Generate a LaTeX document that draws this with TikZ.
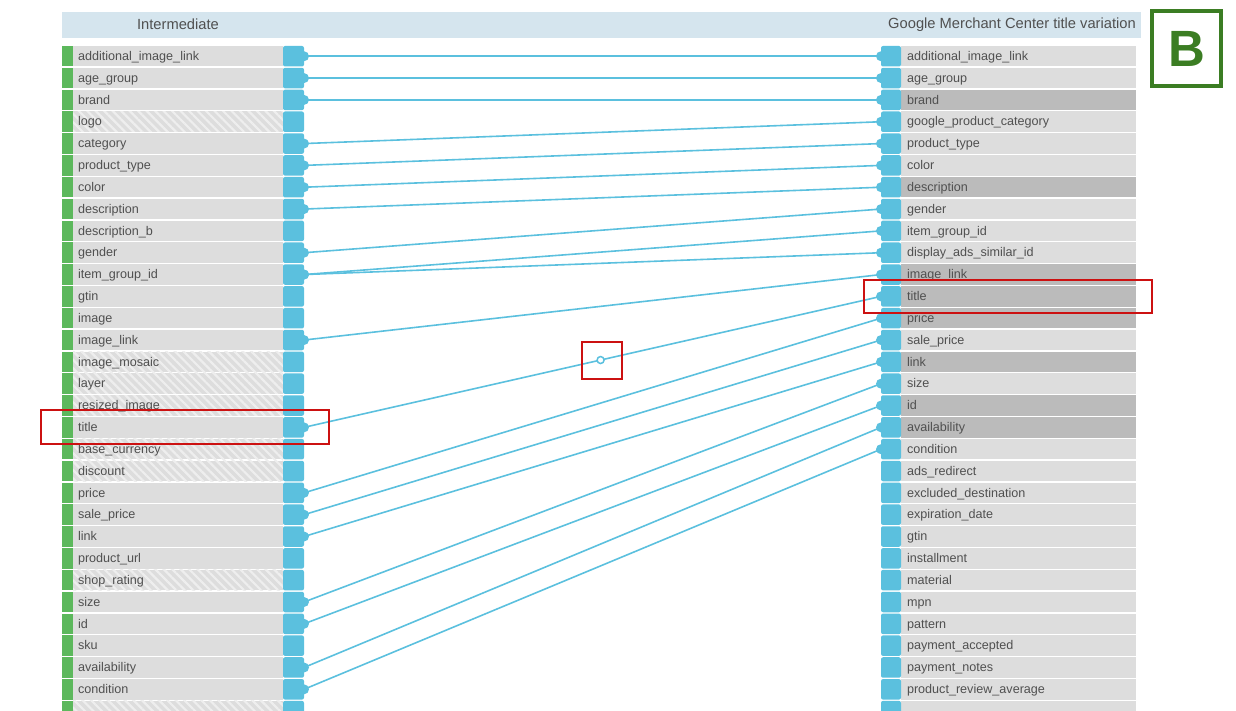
\documentclass[tikz,border=0pt]{standalone}
\usepackage{fontspec}
\setmainfont{Liberation Sans}
\usepackage{tikz}
\usetikzlibrary{patterns.meta}
\definecolor{rowgray}{HTML}{DDDDDD}
\definecolor{rowdark}{HTML}{BBBBBB}
\definecolor{hatchgray}{HTML}{EEEEEE}
\definecolor{portblue}{HTML}{5BC0DE}
\definecolor{stripgreen}{HTML}{5CB85C}
\definecolor{headblue}{HTML}{D5E5EE}
\definecolor{labeltext}{HTML}{505050}
\definecolor{hlred}{HTML}{CC1111}
\definecolor{bgreen}{HTML}{3B7D23}
\tikzset{
    lrow/.style={
           rectangle,
           fill=rowgray,
           minimum width=210pt, text width=200pt,
           minimum height=20.5pt,
           text height=11.4pt, text depth=3pt,
           inner xsep=5pt, inner ysep=0pt, outer sep=0pt,
           align=left,
           text=labeltext,
           font=\fontsize{12.6}{15}\selectfont,
           label={[lstrip]left:},
           label={[lport]right:},
           },
    lrowh/.style={
           lrow,
           preaction={fill=rowgray},
           pattern={Lines[angle=-45,distance=6pt,line width=2.2pt]},
           pattern color=hatchgray,
           },
    rrow/.style={
           rectangle,
           fill=rowgray,
           minimum width=235pt, text width=223pt,
           minimum height=20.5pt,
           text height=11.4pt, text depth=3pt,
           inner xsep=6pt, inner ysep=0pt, outer sep=0pt,
           align=left,
           text=labeltext,
           font=\fontsize{12.6}{15}\selectfont,
           label={[rport]left:},
           },
    rrowd/.style={rrow, fill=rowdark},
    lstrip/.style={fill=stripgreen, minimum width=11pt, minimum height=20.5pt, inner sep=0pt, outer sep=0pt},
    lport/.style={fill=portblue, minimum width=21pt, minimum height=20.5pt, inner sep=0pt, outer sep=0pt, rounded corners=2pt},
    rport/.style={fill=portblue, minimum width=20pt, minimum height=20.5pt, inner sep=0pt, outer sep=0pt, rounded corners=2pt},
    bump/.style={circle, fill=portblue, minimum size=10pt, inner sep=0pt},
    link/.style={draw=portblue, line width=1.6pt,
           edge node={node[bump, at start]{} node[bump, at end]{}}},
    dot/.style={circle, draw=portblue, fill=white, line width=1.5pt, minimum size=7pt, inner sep=0pt},
    hl/.style={rectangle, draw=hlred, line width=2pt, inner sep=0pt},
    headtext/.style={text=labeltext, font=\fontsize{14.7}{17}\selectfont, inner sep=0pt},
}

\begin{document}
\begin{tikzpicture}[x=1pt, y=-1pt, node distance=21.83pt]
 \useasboundingbox (0,0) rectangle (1236,711);
 \clip (0,0) rectangle (1236,711);

 % header bar
 \node[fill=headblue, minimum width=1079pt, minimum height=25.5pt,
  inner sep=0pt, anchor=north west] (HEAD) at (62,12) {};
 \node[headtext] (HLEFT) at (178,24.5) {Intermediate};
 \node[headtext, anchor=east] (HRIGHT) at (1136,24.5) {Google Merchant Center title variation};

 % variant badge
 \node[draw=bgreen, line width=4pt, minimum width=69pt, minimum height=75pt,
  text=bgreen, font=\fontsize{51}{55}\selectfont\bfseries] (BADGE) at (1186.5,48.5) {B};

 % left column: Intermediate
 \node[lrow, anchor=north west] (L1) at (73,46) {additional\_image\_link};
 \node[lrow, below of=L1] (L2) {age\_group};
 \node[lrow, below of=L2] (L3) {brand};
 \node[lrowh, below of=L3] (L4) {logo};
 \node[lrow, below of=L4] (L5) {category};
 \node[lrow, below of=L5] (L6) {product\_type};
 \node[lrow, below of=L6] (L7) {color};
 \node[lrow, below of=L7] (L8) {description};
 \node[lrow, below of=L8] (L9) {description\_b};
 \node[lrow, below of=L9] (L10) {gender};
 \node[lrow, below of=L10] (L11) {item\_group\_id};
 \node[lrow, below of=L11] (L12) {gtin};
 \node[lrow, below of=L12] (L13) {image};
 \node[lrow, below of=L13] (L14) {image\_link};
 \node[lrowh, below of=L14] (L15) {image\_mosaic};
 \node[lrowh, below of=L15] (L16) {layer};
 \node[lrowh, below of=L16] (L17) {resized\_image};
 \node[lrow, below of=L17] (L18) {title};
 \node[lrowh, below of=L18] (L19) {base\_currency};
 \node[lrowh, below of=L19] (L20) {discount};
 \node[lrow, below of=L20] (L21) {price};
 \node[lrow, below of=L21] (L22) {sale\_price};
 \node[lrow, below of=L22] (L23) {link};
 \node[lrow, below of=L23] (L24) {product\_url};
 \node[lrowh, below of=L24] (L25) {shop\_rating};
 \node[lrow, below of=L25] (L26) {size};
 \node[lrow, below of=L26] (L27) {id};
 \node[lrow, below of=L27] (L28) {sku};
 \node[lrow, below of=L28] (L29) {availability};
 \node[lrow, below of=L29] (L30) {condition};
 \node[lrowh, below of=L30] (L31) {};

 % right column: Google Merchant Center
 \node[rrow, anchor=north west] (R1) at (901,46) {additional\_image\_link};
 \node[rrow, below of=R1] (R2) {age\_group};
 \node[rrowd, below of=R2] (R3) {brand};
 \node[rrow, below of=R3] (R4) {google\_product\_category};
 \node[rrow, below of=R4] (R5) {product\_type};
 \node[rrow, below of=R5] (R6) {color};
 \node[rrowd, below of=R6] (R7) {description};
 \node[rrow, below of=R7] (R8) {gender};
 \node[rrow, below of=R8] (R9) {item\_group\_id};
 \node[rrow, below of=R9] (R10) {display\_ads\_similar\_id};
 \node[rrowd, below of=R10] (R11) {image\_link};
 \node[rrowd, below of=R11] (R12) {title};
 \node[rrowd, below of=R12] (R13) {price};
 \node[rrow, below of=R13] (R14) {sale\_price};
 \node[rrowd, below of=R14] (R15) {link};
 \node[rrow, below of=R15] (R16) {size};
 \node[rrowd, below of=R16] (R17) {id};
 \node[rrowd, below of=R17] (R18) {availability};
 \node[rrow, below of=R18] (R19) {condition};
 \node[rrow, below of=R19] (R20) {ads\_redirect};
 \node[rrow, below of=R20] (R21) {excluded\_destination};
 \node[rrow, below of=R21] (R22) {expiration\_date};
 \node[rrow, below of=R22] (R23) {gtin};
 \node[rrow, below of=R23] (R24) {installment};
 \node[rrow, below of=R24] (R25) {material};
 \node[rrow, below of=R25] (R26) {mpn};
 \node[rrow, below of=R26] (R27) {pattern};
 \node[rrow, below of=R27] (R28) {payment\_accepted};
 \node[rrow, below of=R28] (R29) {payment\_notes};
 \node[rrow, below of=R29] (R30) {product\_review\_average};
 \node[rrow, below of=R30] (R31) {};

 % mappings, port to port
 \path
 ([xshift=21pt]L1.east)	edge[link]	([xshift=-20pt]R1.west)
 ([xshift=21pt]L2.east)	edge[link]	([xshift=-20pt]R2.west)
 ([xshift=21pt]L3.east)	edge[link]	([xshift=-20pt]R3.west)
 ([xshift=21pt]L5.east)	edge[link]	([xshift=-20pt]R4.west)
 ([xshift=21pt]L6.east)	edge[link]	([xshift=-20pt]R5.west)
 ([xshift=21pt]L7.east)	edge[link]	([xshift=-20pt]R6.west)
 ([xshift=21pt]L8.east)	edge[link]	([xshift=-20pt]R7.west)
 ([xshift=21pt]L10.east)	edge[link]	([xshift=-20pt]R8.west)
 ([xshift=21pt]L11.east)	edge[link]	([xshift=-20pt]R9.west)
 ([xshift=21pt]L11.east)	edge[link]	([xshift=-20pt]R10.west)
 ([xshift=21pt]L14.east)	edge[link]	([xshift=-20pt]R11.west)
 ([xshift=21pt]L18.east)	edge[link]	node[dot, pos=.514] (MID) {} ([xshift=-20pt]R12.west)
 ([xshift=21pt]L21.east)	edge[link]	([xshift=-20pt]R13.west)
 ([xshift=21pt]L22.east)	edge[link]	([xshift=-20pt]R14.west)
 ([xshift=21pt]L23.east)	edge[link]	([xshift=-20pt]R15.west)
 ([xshift=21pt]L26.east)	edge[link]	([xshift=-20pt]R16.west)
 ([xshift=21pt]L27.east)	edge[link]	([xshift=-20pt]R17.west)
 ([xshift=21pt]L29.east)	edge[link]	([xshift=-20pt]R18.west)
 ([xshift=21pt]L30.east)	edge[link]	([xshift=-20pt]R19.west)
 ;

 % red highlights
 \node[hl, minimum width=288pt, minimum height=34pt] (HLL) at (185,427) {};
 \node[hl, minimum width=288pt, minimum height=33pt] (HLR) at (1008,296.5) {};
 \node[hl, minimum width=40pt, minimum height=37pt] (HLM) at (602,360.5) {};
\end{tikzpicture}
\end{document}
